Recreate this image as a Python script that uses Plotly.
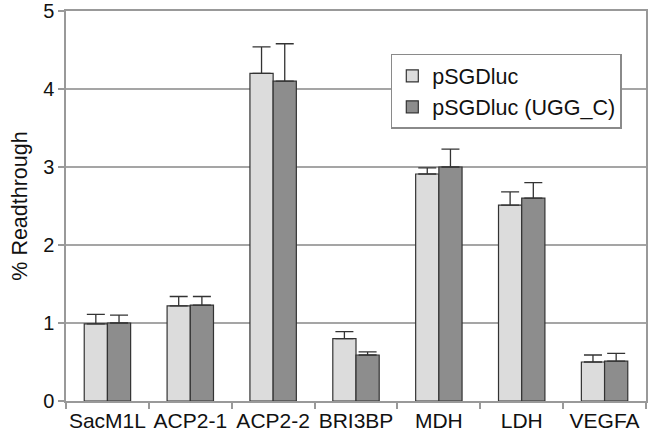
import plotly.graph_objects as go

categories = ["SacM1L", "ACP2-1", "ACP2-2", "BRI3BP", "MDH", "LDH", "VEGFA"]
series_names = ["pSGDluc", "pSGDluc (UGG_C)"]
vals_a = [0.99, 1.22, 4.20, 0.80, 2.91, 2.51, 0.50]
err_a = [0.12, 0.12, 0.34, 0.09, 0.08, 0.17, 0.09]
vals_b = [1.00, 1.23, 4.10, 0.59, 3.00, 2.60, 0.51]
err_b = [0.10, 0.11, 0.48, 0.04, 0.23, 0.20, 0.10]
y_ticks = [0, 1, 2, 3, 4, 5]

FONT = "Liberation Sans, Arial, sans-serif"

fig = go.Figure()
for name, vals, errs, col in [
    (series_names[0], vals_a, err_a, "#dcdcdc"),
    (series_names[1], vals_b, err_b, "#8d8d8d"),
]:
    fig.add_trace(go.Bar(
        x=categories, y=vals, name=name,
        marker=dict(color=col, line=dict(color="#333333", width=1.2)),
        error_y=dict(type="data", symmetric=False, array=errs,
                     arrayminus=[0] * len(errs), color="#333333",
                     thickness=1.3, width=9),
    ))

fig.update_layout(
    width=650, height=438,
    margin=dict(l=66, r=4, t=11, b=37, autoexpand=False),
    paper_bgcolor="white", plot_bgcolor="white",
    barmode="group", bargap=0.44, bargroupgap=0,
    font=dict(family=FONT, color="#111111"),
    showlegend=True,
    legend=dict(x=0.56, y=0.89, xanchor="left", yanchor="top",
                bgcolor="white", bordercolor="#8a8a8a", borderwidth=1.5,
                font=dict(size=21.5, family=FONT, color="#111111"),
                itemwidth=30),
)
fig.update_xaxes(
    tickson="boundaries", ticks="outside", ticklen=6, tickcolor="#999999",
    tickwidth=1.5, tickangle=0, automargin=False,
    showline=True, linecolor="#999999", linewidth=1.5, mirror=True,
    tickfont=dict(size=21, family=FONT, color="#111111"),
    showgrid=False,
)
fig.update_yaxes(
    range=[0, 5], tickvals=y_ticks, ticks="outside", ticklen=6,
    tickcolor="#999999", tickwidth=1.5, automargin=False,
    ticklabeloverflow="allow",
    showline=True, linecolor="#999999", linewidth=1.5, mirror=True,
    showgrid=True, gridcolor="#a5a5a5", gridwidth=1.5,
    tickfont=dict(size=20, family=FONT, color="#111111"),
    title=dict(text="% Readthrough", font=dict(size=21.5, family=FONT, color="#111111"),
               standoff=10),
    zeroline=False,
)

fig.write_html("out.html", config={"displayModeBar": False},
               post_script="document.body.style.margin='0';")
